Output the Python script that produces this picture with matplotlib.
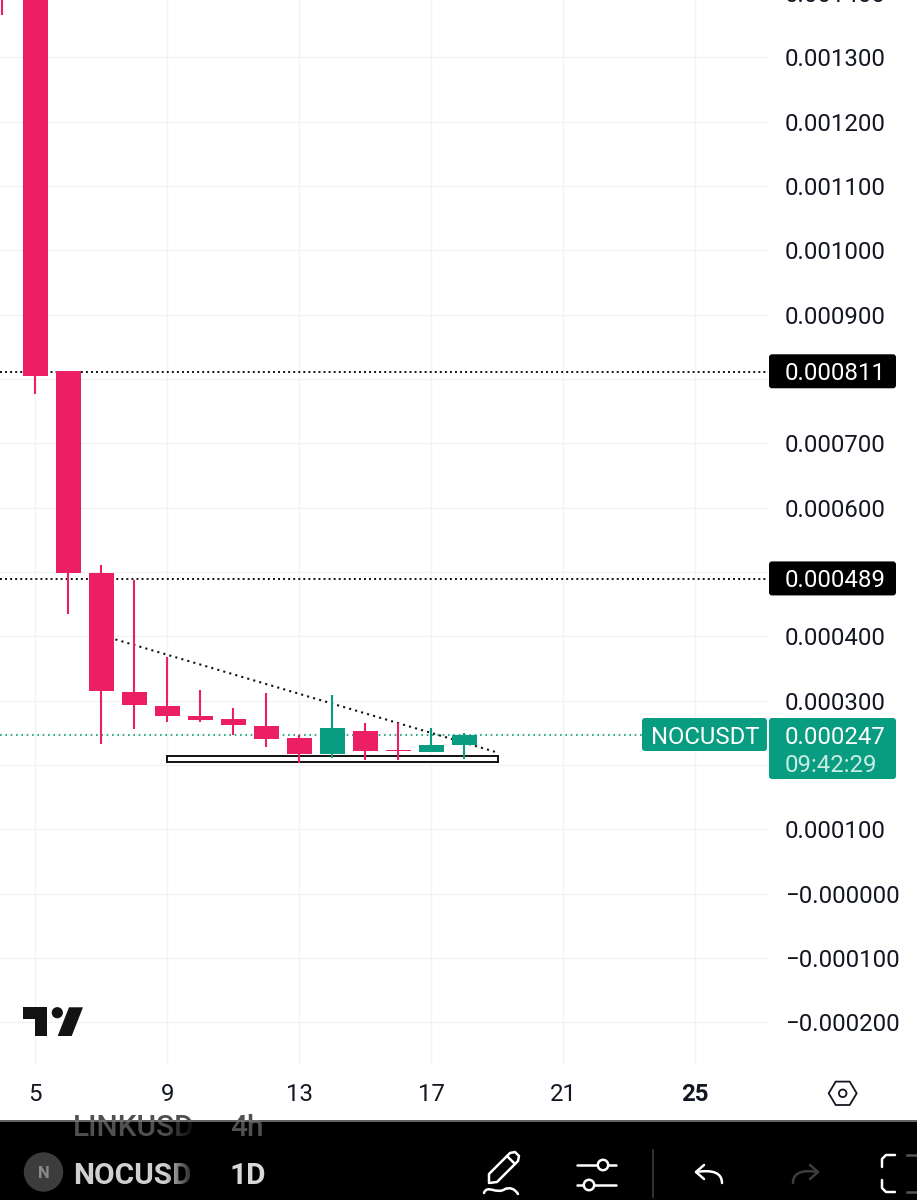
import numpy as np
import matplotlib
matplotlib.use("Agg")
import matplotlib.pyplot as plt
from matplotlib.patches import FancyBboxPatch, Polygon, Circle, Rectangle, PathPatch
from matplotlib.path import Path

plt.rcParams["font.family"] = ["Roboto", "DejaVu Sans"]

# Daily candles (first two open above the visible range)
days = [4, 5, 6, 7, 8, 9, 10, 11, 12, 13, 14, 15, 16, 17, 18]
opens = [0.001700, 0.001500, 0.000812, 0.000498, 0.000314, 0.000291, 0.000276, 0.000271, 0.000260,
         0.000242, 0.000217, 0.000253, 0.000223, 0.000220, 0.000231]
closes = [0.001420, 0.000804, 0.000498, 0.000315, 0.000293, 0.000276, 0.000270, 0.000262, 0.000240,
          0.000217, 0.000257, 0.000221, 0.000221, 0.000231, 0.000247]
highs = [0.001750, 0.001600, 0.000812, 0.000511, 0.000487, 0.000368, 0.000316, 0.000289, 0.000312,
         0.000246, 0.000308, 0.000265, 0.000265, 0.000258, 0.000250]
lows = [0.001365, 0.000776, 0.000434, 0.000232, 0.000256, 0.000267, 0.000267, 0.000246, 0.000228,
        0.000203, 0.000211, 0.000207, 0.000208, 0.000220, 0.000209]

price_ticks = [0.0014, 0.0013, 0.0012, 0.0011, 0.0010, 0.0009, 0.0008, 0.0007, 0.0006, 0.0005,
               0.0004, 0.0003, 0.0002, 0.0001, 0.0, -0.0001, -0.0002]
price_labels = ["0.001400", "0.001300", "0.001200", "0.001100", "0.001000", "0.000900", "", "0.000700",
                "0.000600", "", "0.000400", "0.000300", "", "0.000100", "\u22120.000000",
                "\u22120.000100", "\u22120.000200"]
day_ticks = [5, 9, 13, 17, 21, 25]
day_labels = ["5", "9", "13", "17", "21", "25"]

level_prices = [0.000811, 0.000489]
level_labels = ["0.000811", "0.000489"]
last_price = 0.000247
symbol = "NOCUSDT"
last_label = "0.000247"
countdown = "09:42:29"
trend_x = [7.43, 19.02]
trend_y = [0.000395, 0.000219]
zone_x = [9.0, 19.03]
zone_y = [0.000204, 0.000213]

RED = "#ec1f64"
GREEN = "#089c80"
GRID = "#f2f3f6"
INK = "#131722"
FS = 17.3

W, H = 917, 1200
fig = plt.figure(figsize=(W / 100, H / 100), dpi=100, facecolor="white")

# Chart area: pixels 0-768 across, 0-1064 down
ax = fig.add_axes([0, 1 - 1064 / H, 768 / W, 1064 / H])
ax.set_xlim(5 - 35.2 / 33, 5 + (768 - 35.2) / 33)
ax.set_ylim(-0.000265, 0.0013889)
for s in ax.spines.values():
    s.set_visible(False)
ax.set_axisbelow(True)
ax.grid(True, color=GRID, lw=1.0)
ax.yaxis.tick_right()
ax.set_yticks(price_ticks[1:], price_labels[1:])
ax.set_xticks(day_ticks, day_labels)
ax.tick_params(axis="y", length=0, pad=12, labelsize=FS, labelcolor=INK)
ax.tick_params(axis="x", length=0, pad=14, labelsize=FS, labelcolor=INK)
ax.get_xticklabels()[-1].set_fontweight("bold")
for lab in ax.get_yticklabels():
    lab.set_verticalalignment("center_baseline")
# the 0.001400 label sits just past the top of the picture
ax.text(1 + 17 / 768, price_ticks[0], price_labels[0], transform=ax.get_yaxis_transform(), clip_on=False,
        fontsize=FS, color=INK, va="center_baseline", ha="left")

# Drawings
ax.add_patch(Rectangle((zone_x[0], zone_y[0]), zone_x[1] - zone_x[0], zone_y[1] - zone_y[0],
                       fc="white", ec="#111111", lw=1.4, zorder=2))
for p in level_prices:
    ax.axhline(p, color="#111111", lw=1.4, ls=(0, (1, 1.6)), zorder=2.2)
ax.axhline(last_price, color=GREEN, lw=1.2, ls=(0, (1, 2.2)), zorder=2.2)
ax.plot(trend_x, trend_y, color="#111111", lw=1.5, ls=(0, (1, 2)), zorder=2.8)

# Candles
colors = [GREEN if c > o else RED for o, c in zip(opens, closes)]
ax.vlines(days, lows, highs, colors=colors, lw=1.5, zorder=3)
bottoms = [min(o, c) for o, c in zip(opens, closes)]
heights = [abs(o - c) for o, c in zip(opens, closes)]
ax.bar(days, heights, bottom=bottoms, width=25 / 33, color=colors, zorder=3.2)

# Overlay in picture pixels for price labels, logo and the app toolbar
ov = fig.add_axes([0, 0, 1, 1], facecolor="none")
ov.set_xlim(0, W)
ov.set_ylim(H, 0)
ov.axis("off")


def y_px(price):
    return H - ax.transData.transform((0, price))[1]


def label_box(x0, x1, y0, y1, color):
    ov.add_patch(FancyBboxPatch((x0 + 3, y0 + 3), x1 - x0 - 6, y1 - y0 - 6,
                                boxstyle="round,pad=3,rounding_size=3", fc=color, ec="none"))


for p, lab in zip(level_prices, level_labels):
    yc = y_px(p) - 0.5
    label_box(769, 896, yc - 17, yc + 17, "black")
    ov.text(785, yc, lab, color="white", fontsize=FS, va="center_baseline", ha="left")

label_box(642, 767, 718, 751, GREEN)
label_box(769, 896, 718, 779, GREEN)
ov.text(651, 735.5, symbol, color="white", fontsize=17.2, va="center_baseline", ha="left")
ov.text(785, 735.5, last_label, color="white", fontsize=FS, va="center_baseline", ha="left")
ov.text(785, 763.5, countdown, color="#c8ece4", fontsize=FS, va="center_baseline", ha="left")

# TradingView mark
ov.add_patch(Polygon([(23.3, 1007.3), (47.3, 1007.3), (47.3, 1036), (35, 1036), (35, 1019.3), (23.3, 1019.3)],
                     fc="#131313", ec="none"))
ov.add_patch(Circle((57.3, 1012.7), 5.6, fc="#131313", ec="none"))
ov.add_patch(Polygon([(69, 1007.3), (83, 1007.3), (71.7, 1036), (57.7, 1036)], fc="#131313", ec="none"))

# Settings hexagon on the scale corner
ang = np.deg2rad(np.arange(0, 360, 60))
ov.add_patch(Polygon(np.c_[842.7 + 14 * np.cos(ang), 1093.3 + 13.5 * np.sin(ang)], fc="none", ec=INK, lw=1.3))
ov.add_patch(Circle((842.7, 1093.3), 3.8, fc="none", ec=INK, lw=1.3))

# Bottom toolbar
bar = fig.add_axes([0, 0, 1, 80 / H], facecolor="black")
bar.set_xticks([])
bar.set_yticks([])
for s in bar.spines.values():
    s.set_visible(False)
bar.axhline(1120.5, color="#777777", lw=1.2, zorder=6)

bar.text(73, 1125, "LINKUSD", color="#505050", fontsize=21.5, va="center_baseline", ha="left", fontweight="medium")
bar.text(230, 1125, "4h", color="#505050", fontsize=21.5, va="center_baseline", ha="left", fontweight="medium")
bar.add_patch(Circle((43.5, 1172), 19.7, fc="#3c3c3c", ec="none"))
bar.text(43.5, 1172.5, "N", color="#8a8a8a", fontsize=12, va="center_baseline", ha="center", fontweight="bold")
bar.text(73, 1173, "NOCUSD", color="#d0d0d0", fontsize=21.5, va="center_baseline", ha="left", fontweight="bold")
# symbol names fade out to the right
fade = np.zeros((1, 64, 4))
fade[0, :, 3] = np.linspace(0, 1, 64)
bar.imshow(fade, extent=(165, 198, 1200, 1120), aspect="auto", zorder=4)
bar.add_patch(Rectangle((198, 1120), 30, 80, fc="black", ec="none", zorder=4))
bar.text(230, 1173, "1D", color="#d8d8d8", fontsize=21.5, va="center_baseline", ha="left", fontweight="bold", zorder=5)

LINE = dict(color="white", lw=1.8, solid_capstyle="round", solid_joinstyle="round")
# pencil
bar.add_patch(Polygon([(489, 1174), (510, 1153), (515, 1152), (519, 1156), (518, 1161), (497, 1182), (489, 1183)],
                      fc="none", ec="white", lw=1.8, joinstyle="round"))
bar.plot([507, 515], [1156, 1164], **LINE)
bar.add_patch(PathPatch(Path([(484, 1193), (487, 1184), (497, 1195), (505, 1189), (513, 1186), (518, 1194)],
                             [Path.MOVETO, Path.CURVE4, Path.CURVE4, Path.CURVE4, Path.CURVE3, Path.CURVE3]),
                        fc="none", ec="white", lw=1.8, capstyle="round"))
# sliders
bar.plot([577, 616], [1165, 1165], **LINE)
bar.plot([577, 616], [1185, 1185], **LINE)
bar.add_patch(Circle((603, 1165), 5.2, fc="black", ec="white", lw=1.8, zorder=3))
bar.add_patch(Circle((589, 1185), 5.2, fc="black", ec="white", lw=1.8, zorder=3))
bar.plot([653, 653], [1150, 1197], color="#3a3a3a", lw=1.2)
# undo and redo
bar.plot([704, 696, 704], [1165, 1172, 1179], **LINE)
bar.add_patch(PathPatch(Path([(696, 1172), (722, 1168), (722, 1183)], [Path.MOVETO, Path.CURVE3, Path.CURVE3]),
                        fc="none", ec="white", lw=1.8, capstyle="round"))
GREY = dict(color="#3d3d3d", lw=1.8, solid_capstyle="round", solid_joinstyle="round")
bar.plot([810, 818, 810], [1165, 1172, 1179], **GREY)
bar.add_patch(PathPatch(Path([(818, 1172), (793, 1168), (793, 1183)], [Path.MOVETO, Path.CURVE3, Path.CURVE3]),
                        fc="none", ec="#3d3d3d", lw=1.8, capstyle="round"))
# fullscreen brackets cut off at the right edge
bar.plot([895, 886, 882, 882], [1155, 1155, 1159, 1167], **LINE)
bar.plot([895, 886, 882, 882], [1192, 1192, 1188, 1180], **LINE)
bar.plot([907, 917], [1155, 1155], color="#555555", lw=1.8)
bar.plot([907, 917], [1192, 1192], color="#555555", lw=1.8)
bar.set_xlim(0, W)
bar.set_ylim(H, 1120)

fig.savefig("out.png", dpi=100)
